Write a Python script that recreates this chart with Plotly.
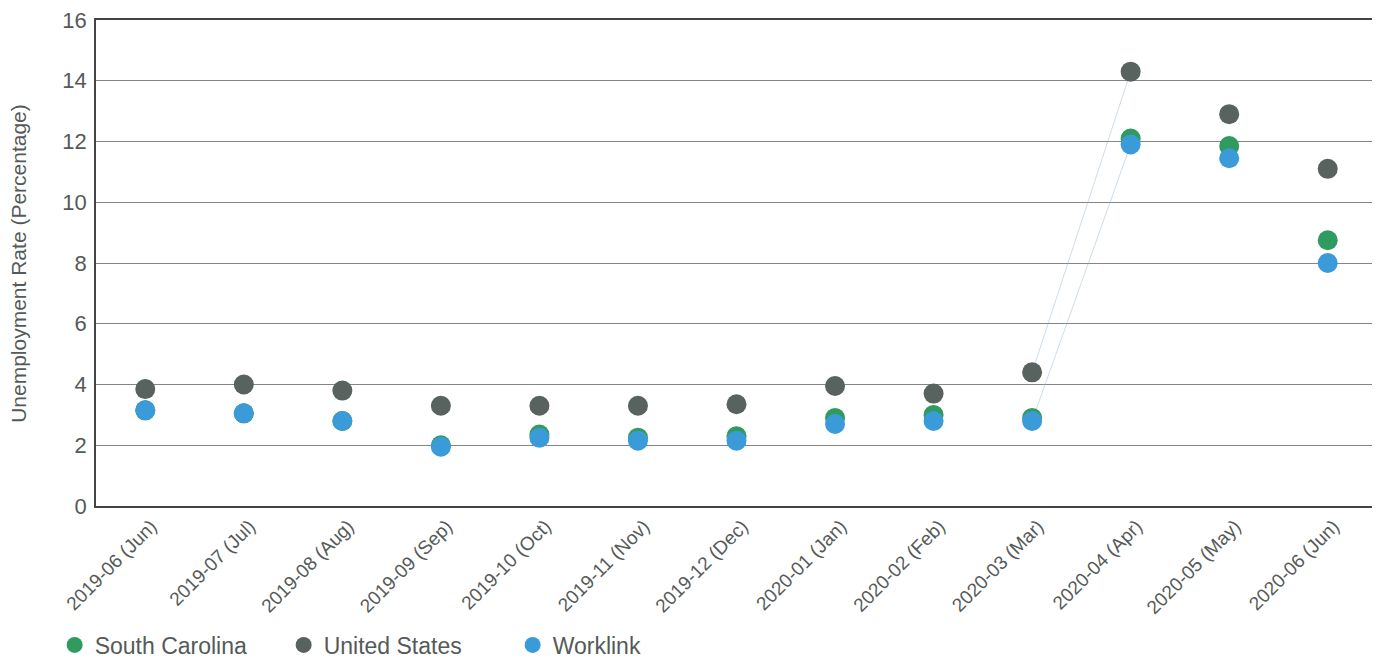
import plotly.graph_objects as go

months = ["2019-06 (Jun)", "2019-07 (Jul)", "2019-08 (Aug)", "2019-09 (Sep)", "2019-10 (Oct)",
          "2019-11 (Nov)", "2019-12 (Dec)", "2020-01 (Jan)", "2020-02 (Feb)", "2020-03 (Mar)",
          "2020-04 (Apr)", "2020-05 (May)", "2020-06 (Jun)"]
south_carolina = [3.15, 3.05, 2.8, 2.0, 2.35, 2.25, 2.3, 2.9, 3.0, 2.9, 12.1, 11.85, 8.75]
united_states = [3.85, 4.0, 3.8, 3.3, 3.3, 3.3, 3.35, 3.95, 3.7, 4.4, 14.3, 12.9, 11.1]
worklink = [3.15, 3.05, 2.8, 1.95, 2.25, 2.15, 2.15, 2.7, 2.8, 2.8, 11.9, 11.45, 8.0]
y_ticks = [0, 2, 4, 6, 8, 10, 12, 14, 16]

TXT = "#555a58"
fig = go.Figure()

# faint connector artifacts (Mar -> Apr)
for series in (united_states, worklink):
    fig.add_trace(go.Scatter(x=months[9:11], y=series[9:11], mode="lines",
                             line=dict(color="rgba(140,180,210,0.45)", width=1),
                             showlegend=False, hoverinfo="skip"))

fig.add_trace(go.Scatter(x=months, y=south_carolina, mode="markers", name="South Carolina",
                         marker=dict(size=20, color="#2f9b5e", line=dict(width=0))))
fig.add_trace(go.Scatter(x=months, y=united_states, mode="markers", name="United States",
                         marker=dict(size=20, color="#58625f", line=dict(width=0))))
fig.add_trace(go.Scatter(x=months, y=worklink, mode="markers", name="Worklink",
                         marker=dict(size=20, color="#3a9bd8", line=dict(width=0))))

fig.update_layout(
    width=1372, height=652,
    margin=dict(l=88, r=3, t=12, b=154),
    paper_bgcolor="white", plot_bgcolor="white",
    font=dict(family="Liberation Sans, Arial, sans-serif", color=TXT),
    showlegend=True,
    legend=dict(orientation="h", xref="container", yref="container", x=0.034, y=0.023,
                xanchor="left", yanchor="middle", font=dict(size=23, color=TXT),
                itemsizing="trace", traceorder="normal", itemwidth=30,
                entrywidth=184, entrywidthmode="pixels"),
    xaxis=dict(type="category", categoryorder="array", categoryarray=months,
               tickangle=-45, tickfont=dict(size=19, color=TXT), ticklabelshift=6,
               showgrid=False, showline=True, linecolor="#444", linewidth=1.5, mirror=True,
               ticks="", range=[-0.5, 12.5], automargin=False),
    yaxis=dict(range=[0, 16], tickvals=y_ticks, tickfont=dict(size=22, color=TXT),
               showgrid=True, gridcolor="#858585", gridwidth=1.2, mirror=True,
               showline=True, linecolor="#444", linewidth=1.5, zeroline=False,
               automargin=False, ticklabelstandoff=3, ticklabeloverflow="allow"),
    annotations=[dict(text="Unemployment Rate (Percentage)", xref="paper", yref="paper",
                      x=-0.061, y=0.5, xanchor="center", yanchor="middle", textangle=-90,
                      showarrow=False, font=dict(size=21, color=TXT))],
)
fig.write_html("out.html")
